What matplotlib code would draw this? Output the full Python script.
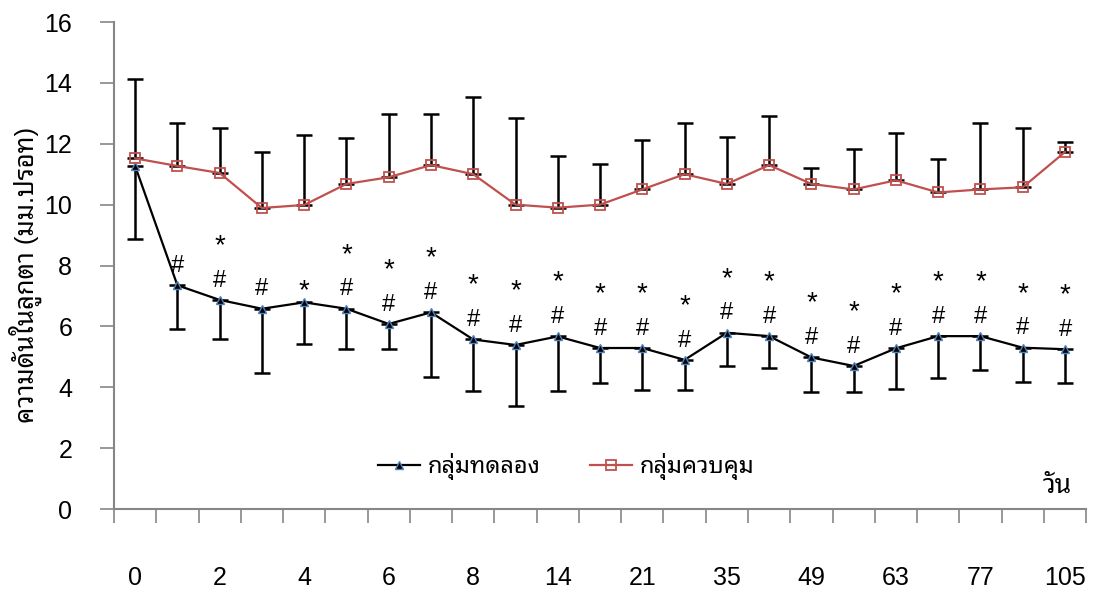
import matplotlib
matplotlib.use("Agg")
import matplotlib.pyplot as plt
import numpy as np

# Fuentes: digitos tipo Arial, tailandes con respaldo
plt.rcParams['font.family'] = ['Liberation Sans', 'Noto Sans Thai Looped']

# Dias (solo se muestran los pares)
dias = ["0", "1", "2", "3", "4", "5", "6", "7", "8", "10", "14", "17", "21",
        "28", "35", "42", "49", "56", "63", "70", "77", "91", "105"]

# Grupo experimental (media y DE hacia abajo)
exp_media = [11.27, 7.35, 6.87, 6.58, 6.79, 6.58, 6.08, 6.46, 5.57, 5.39, 5.67, 5.29,
             5.29, 4.90, 5.79, 5.68, 4.98, 4.70, 5.28, 5.68, 5.68, 5.30, 5.25]
exp_inf = [8.87, 5.92, 5.58, 4.46, 5.41, 5.25, 5.25, 4.35, 3.89, 3.39, 3.89, 4.14,
           3.90, 3.90, 4.70, 4.63, 3.85, 3.85, 3.95, 4.29, 4.57, 4.18, 4.13]

# Grupo control (media y DE hacia arriba)
ctl_media = [11.52, 11.27, 11.04, 9.89, 9.99, 10.68, 10.90, 11.30, 11.00, 10.00, 9.90, 10.00,
             10.50, 11.00, 10.68, 11.30, 10.68, 10.50, 10.80, 10.40, 10.50, 10.57, 11.73]
ctl_sup = [14.13, 12.69, 12.52, 11.74, 12.29, 12.18, 12.97, 12.97, 13.53, 12.84, 11.60, 11.33,
           12.12, 12.69, 12.23, 12.90, 11.22, 11.84, 12.35, 11.50, 12.69, 12.52, 12.07]

# Significancia sobre el grupo experimental (desde el dia 1)
sig = ["#", "#*", "#", "*", "#*", "#*", "#*", "#*", "#*", "#*", "#*", "#*",
       "#*", "#*", "#*", "#*", "#*", "#*", "#*", "#*", "#*", "#*"]

x = np.arange(len(dias))
exp_err = np.array(exp_media) - np.array(exp_inf)
ctl_err = np.array(ctl_sup) - np.array(ctl_media)

fig = plt.figure(figsize=(10.96, 5.95), dpi=100)
ax = fig.add_axes([0.104, 0.1445, 0.887, 0.8185])

gris = '#868686'
rojo = '#C0504D'

# Barras de error
ax.errorbar(x, ctl_media, yerr=[np.zeros(len(x)), ctl_err], fmt='none',
            ecolor='black', elinewidth=1.8, capsize=6, capthick=1.8, zorder=2)
ax.errorbar(x, exp_media, yerr=[exp_err, np.zeros(len(x))], fmt='none',
            ecolor='black', elinewidth=1.8, capsize=6, capthick=1.8, zorder=2)

# Lineas
ax.plot(x, exp_media, color='black', linewidth=1.6, marker='^', markersize=6,
        markerfacecolor='black', markeredgecolor='#4F81BD', markeredgewidth=1.0,
        label='กลุ่มทดลอง', zorder=3)
ax.plot(x, ctl_media, color=rojo, linewidth=1.6, marker='s', markersize=7,
        markerfacecolor='none', markeredgecolor=rojo, markeredgewidth=1.3,
        label='กลุ่มควบคุม', zorder=3)

# Simbolos de significancia
for i, s in enumerate(sig):
    xi = x[i + 1]
    yi = exp_media[i + 1]
    if s == "*":
        ax.annotate("*", (xi, yi), xytext=(0, -1), textcoords='offset points',
                    ha='center', va='bottom', fontsize=20)
    else:
        ax.annotate("#", (xi, yi), xytext=(0, 6), textcoords='offset points',
                    ha='center', va='bottom', fontsize=17)
        if "*" in s:
            ax.annotate("*", (xi, yi), xytext=(0, 29.5), textcoords='offset points',
                        ha='center', va='bottom', fontsize=20)

# Ejes
ax.set_xlim(-0.5, len(dias) - 0.5)
ax.set_ylim(0, 16)
ax.set_yticks(np.arange(0, 17, 2))
ax.tick_params(axis='y', direction='out', length=10, width=1.2, color=gris,
               labelsize=18, pad=20)

ax.set_xticks(np.arange(-0.5, len(dias), 1))
ax.set_xticklabels([])
ax.tick_params(axis='x', which='major', direction='out', length=10, width=1.2, color=gris)
ax.set_xticks(x[::2], minor=True)
ax.set_xticklabels([dias[i] for i in x[::2]], minor=True)
ax.tick_params(axis='x', which='minor', length=0, labelsize=18, pad=41)

for lado in ['top', 'right']:
    ax.spines[lado].set_visible(False)
for lado in ['left', 'bottom']:
    ax.spines[lado].set_color(gris)
    ax.spines[lado].set_linewidth(1.5)

ax.set_ylabel('ความดันในลูกตา (มม.ปรอท)', fontsize=18.5)
ax.yaxis.set_label_coords(-0.074, 0.48)
ax.text(22.15, 0.35, 'วัน', fontsize=19, ha='right', va='bottom')

ax.legend(loc='lower center', bbox_to_anchor=(0.465, 0.015), ncol=2, frameon=False,
          fontsize=17, handlelength=1.8, handletextpad=0.3, columnspacing=2.1)

fig.savefig("out.png")
